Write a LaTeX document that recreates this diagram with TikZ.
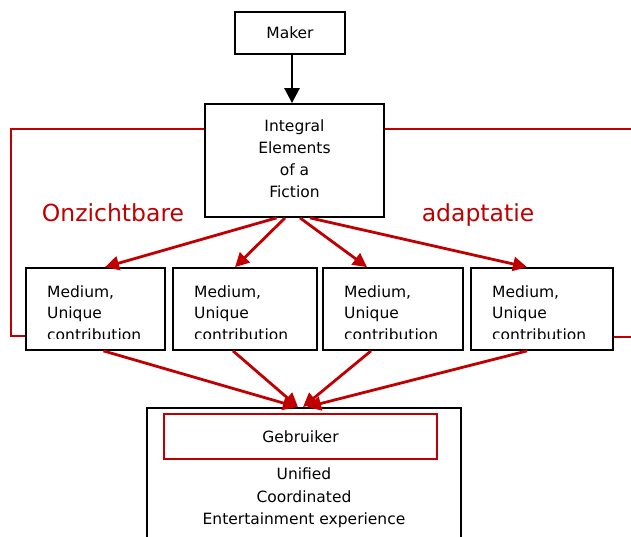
\documentclass[tikz,border=0pt]{standalone}
\usepackage{fontspec}
\setmainfont{DejaVu Sans}
\usetikzlibrary{arrows.meta}
\definecolor{darkred}{RGB}{192,0,0}

\begin{document}
\begin{tikzpicture}[x=1pt,y=-1pt,
  box/.style={draw=black, line width=1.8pt, inner sep=0pt, font=\fontsize{15.5pt}{22pt}\selectfont},
  mediumbox/.style={box, minimum height=82pt},
  mtext/.style={anchor=north west, align=left, inner sep=0pt, font=\fontsize{15.5pt}{21.5pt}\selectfont},
  redline/.style={draw=darkred, line width=1.5pt},
  redarrow/.style={draw=darkred, fill=darkred, line width=2.8pt, -{Triangle[length=14pt,width=14pt]}},
  blackarrow/.style={draw=black, line width=2.6pt, -{Triangle[length=15pt,width=15pt]}},
  bigred/.style={text=darkred, inner sep=0pt, anchor=base, font=\fontsize{23.5pt}{28pt}\selectfont}]

\useasboundingbox (0,0) rectangle (631,536);

% top boxes
\node[box, minimum width=110pt, minimum height=42pt] (maker) at (290,33) {Maker};
\node[box, minimum width=179pt, minimum height=113pt] (integral) at (294.5,160.5) {};
\node[align=center, inner sep=0pt, font=\fontsize{15.5pt}{22pt}\selectfont] (integraltext) at (294.5,159)
  {Integral\\Elements\\of a\\Fiction};

% media boxes
\node[mediumbox, minimum width=139pt] (m1) at (95.5,309) {};
\node[mediumbox, minimum width=144pt] (m2) at (245,309) {};
\node[mediumbox, minimum width=140pt] (m3) at (393,309) {};
\node[mediumbox, minimum width=142pt] (m4) at (542,309) {};

% media texts, cut off at the last line
\foreach \m/\x in {m1/47, m2/194, m3/344, m4/492}{
  \begin{scope}
    \clip (\m.north west) rectangle (\m.east |- 0,338);
    \node[mtext] at (\x,285.2) {Medium,\\Unique\\contribution};
  \end{scope}
}

% user box
\node[box, minimum width=314pt, minimum height=150pt, anchor=north] (user) at (304,407) {};
\node[draw=darkred, line width=1.8pt, minimum width=273pt, minimum height=45pt, inner sep=0pt,
  font=\fontsize{15.5pt}{22pt}\selectfont] (gebruiker) at (300.5,436.5) {Gebruiker};
\node[align=center, inner sep=0pt, font=\fontsize{15.5pt}{22.5pt}\selectfont] (experience) at (304,498)
  {Unified\\Coordinated\\Entertainment experience};

% labels
\node[bigred] (onzichtbaar) at (113,221) {Onzichtbare};
\node[bigred] (adaptatie) at (478,221) {adaptatie};

% red frame lines
\coordinate (lt) at (11,129);
\coordinate (lb) at (11,336);
\coordinate (rt) at (631,129);
\coordinate (rb) at (631,337);
\draw[redline] (integral.west |- lt) -- (lt) -- (lb) -- (lb -| m1.west);
\draw[redline] (integral.east |- rt) -- (rt);
\draw[redline] (m4.east |- rb) -- (rb);

% maker to elements
\draw[blackarrow] ([xshift=2pt]maker.south) -- ([xshift=2pt]maker.south |- integral.north);

% elements to media
\draw[redarrow] ([xshift=-18pt]integral.south) -- ([xshift=9.5pt]m1.north);
\draw[redarrow] ([xshift=-9.5pt]integral.south) -- ([xshift=-10pt]m2.north);
\draw[redarrow] ([xshift=5.5pt]integral.south) -- ([xshift=-26pt]m3.north);
\draw[redarrow] ([xshift=15.5pt]integral.south) -- ([xshift=-15pt]m4.north);

% media to user
\draw[redarrow] ([xshift=8pt]m1.south) -- ([xshift=-7pt]user.north);
\draw[redarrow] ([xshift=-12pt]m2.south) -- ([xshift=-6pt]user.north);
\draw[redarrow] ([xshift=-22pt]m3.south) -- ([xshift=-1pt]user.north);
\draw[redarrow] ([xshift=-15pt]m4.south) -- ([xshift=3pt]user.north);
\end{tikzpicture}
\end{document}
